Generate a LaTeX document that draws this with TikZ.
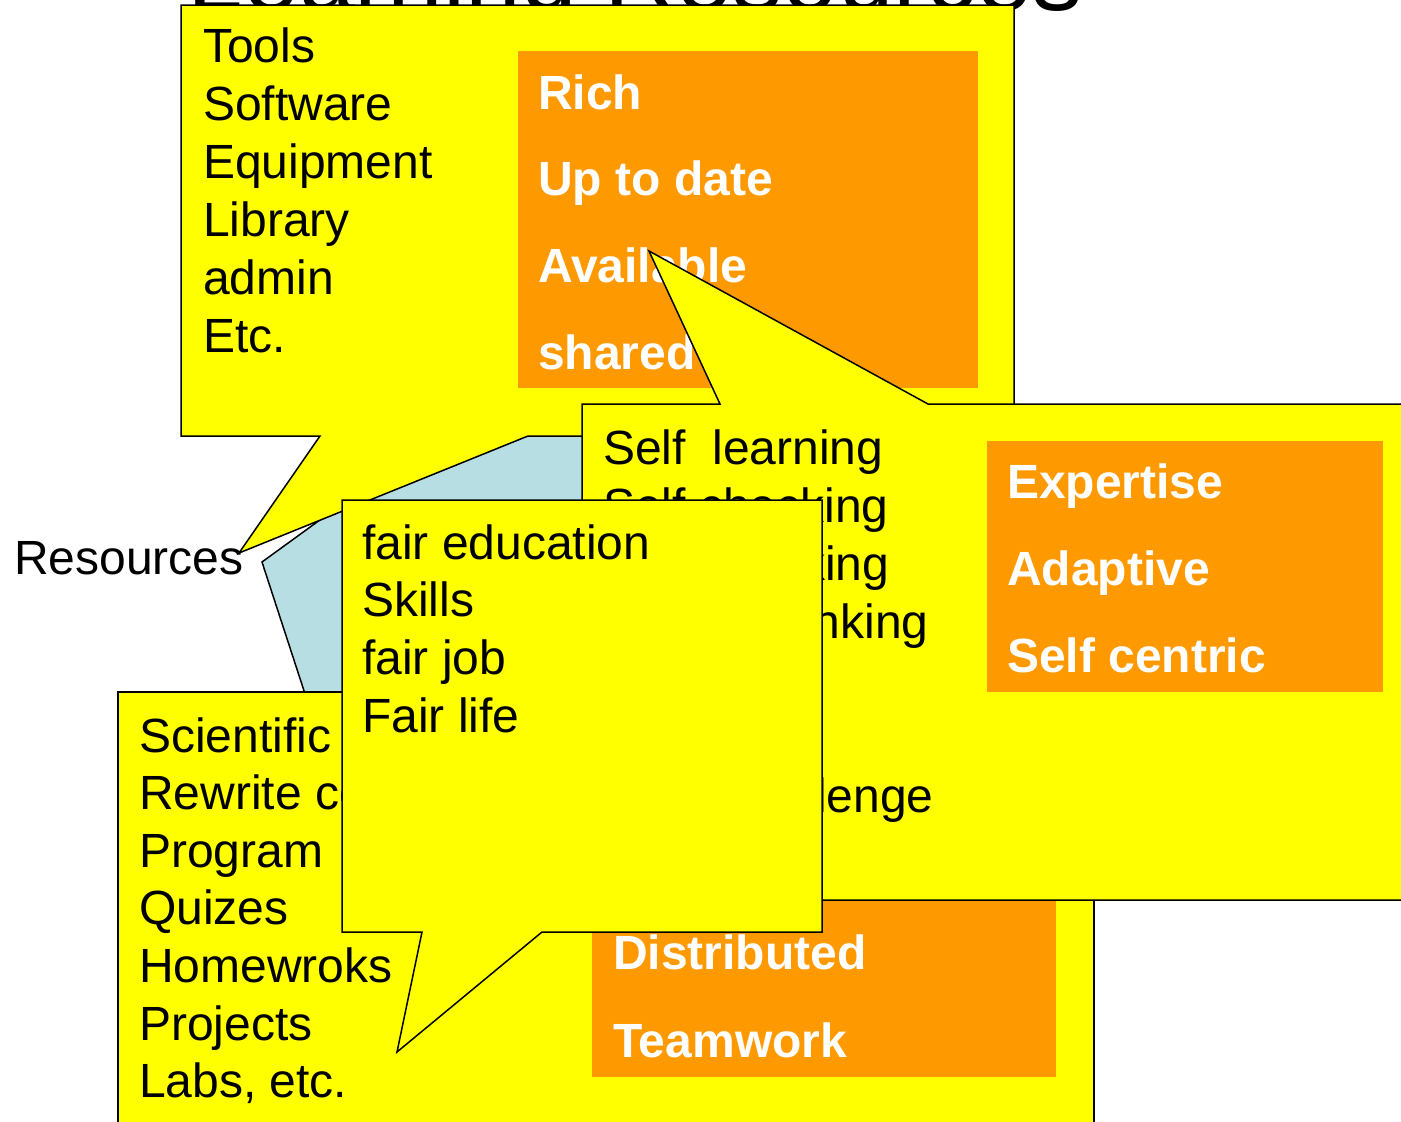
\documentclass[tikz,border=0pt]{standalone}
\usepackage{fontspec}
\setmainfont{Liberation Sans}
\definecolor{calloutyellow}{RGB}{255,255,0}
\definecolor{boxorange}{RGB}{255,153,0}
\definecolor{paleblue}{RGB}{183,223,227}
\tikzset{
  callout/.style={fill=calloutyellow, draw=black, line width=1.5pt, line join=miter},
  orangebox/.style={fill=boxorange, draw=none},
  txt/.style={inner sep=0pt, anchor=base west, font=\fontsize{48}{58}\selectfont},
  wtxt/.style={inner sep=0pt, anchor=base west, text=white, font=\fontsize{48}{58}\selectfont\bfseries},
}
\begin{document}
\begin{tikzpicture}[x=1pt,y=-1pt]
\useasboundingbox (0,0) rectangle (1401,1122);
\fill[white] (0,0) rectangle (1401,1122);
% title, mostly above the page
\node[inner sep=0pt, anchor=base east, font=\fontsize{100}{100}\selectfont] (title) at (1083,10) {Learning Resources};
% pale blue pentagon behind
\draw[fill=paleblue, line width=1.5pt] (620,302) -- (978,562) -- (841,982) -- (399,982) -- (262,562) -- cycle;
% Tools callout
\draw[callout] (181,5) -- (1014,5) -- (1014,436) -- (528,436) -- (239,553) -- (320,436) -- (181,436) -- cycle;
\fill[orangebox] (518,51) rectangle (978,388);
\foreach \t [count=\i from 0] in {Tools,Software,Equipment,Library,admin,Etc.}
  \node[txt] (tools\i) at (203,{62+58*\i}) {\t};
\foreach \t [count=\i from 0] in {Rich,Up to date,Available,shared}
  \node[wtxt] (rich\i) at (538,{109+86.7*\i}) {\t};
% Scientific callout
\draw[callout] (118,692) rectangle (1094,1140);
\fill[orangebox] (592,860) rectangle (1056,1077);
\foreach \t [count=\i from 0] in {Scientific,Rewrite code,Program,Quizes,Homewroks,Projects,{Labs, etc.}}
  \node[txt] (sci\i) at (139,{752+57.6*\i}) {\t};
\node[wtxt] (distributed) at (613,969) {Distributed};
\node[wtxt] (teamwork) at (613,1057) {Teamwork};
% Self learning callout
\draw[callout] (582,404) -- (720,404) -- (649,251) -- (928,404) -- (1420,404) -- (1420,900) -- (582,900) -- cycle;
\fill[orangebox] (987,441) rectangle (1383,692);
\node[txt] (self0) at (603,464) {Self\ \ learning};
\node[txt] (self1) at (603,522) {Self checking};
\node[txt] (self2) at (609,580) {Self\ \ marking};
\node[txt] (self3) at (603,638) {Critical thinking};
\node[txt] (self6) at (608,812) {Face challenge};
\foreach \t [count=\i from 0] in {Expertise,Adaptive,Self centric}
  \node[wtxt] (exp\i) at (1007,{498+87*\i}) {\t};
% fair education callout
\draw[callout] (342,500) -- (822,500) -- (822,932) -- (542,932) -- (397,1052) -- (422,932) -- (342,932) -- cycle;
\foreach \t [count=\i from 0] in {fair education,Skills,fair job,Fair life}
  \node[txt] (fair\i) at (362,{559+57.7*\i}) {\t};
% label
\node[txt] (resources) at (14,574) {Resources};
\end{tikzpicture}
\end{document}
